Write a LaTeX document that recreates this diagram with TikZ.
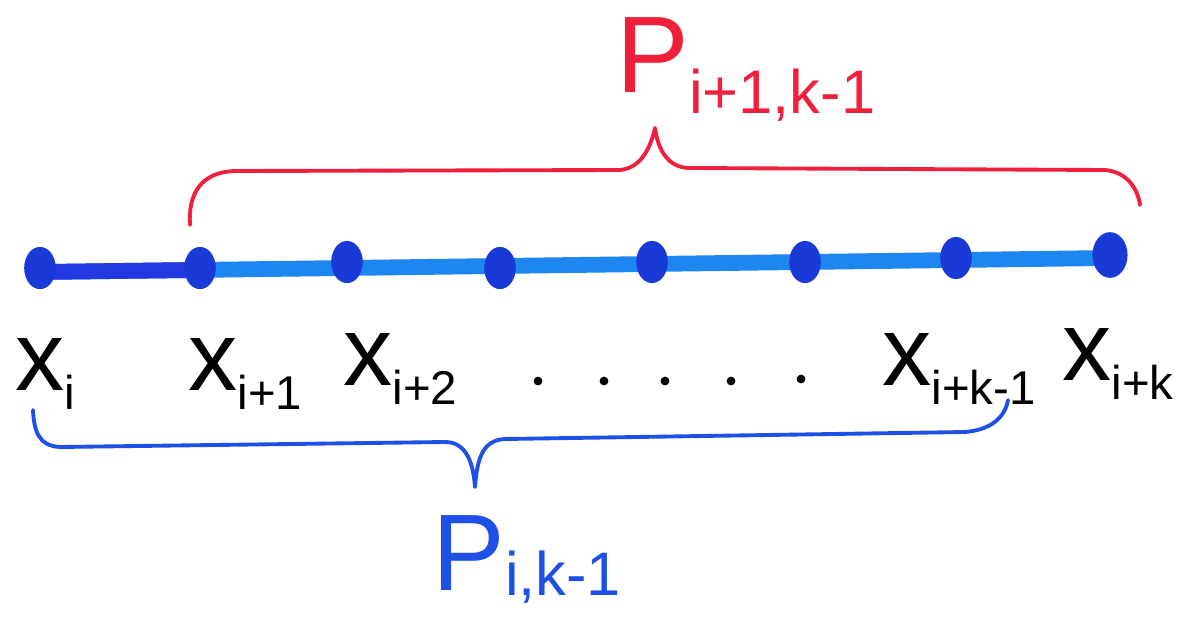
\documentclass[tikz,border=0pt]{standalone}
\usepackage{fontspec}
\setmainfont{Liberation Sans}
\usetikzlibrary{shapes.geometric,calc}
\definecolor{lineblue}{HTML}{1E86F0}
\definecolor{lineblueL}{HTML}{2238E0}
\definecolor{dotblue}{HTML}{1A3AD8}
\definecolor{braceblue}{HTML}{1E50E6}
\definecolor{bracered}{HTML}{F0203C}
\newcommand{\lowsub}[3]{\raisebox{#1}{\fontsize{#2}{#2}\selectfont #3}}
\newcommand{\xlab}[1]{x\lowsub{-11pt}{27}{#1}}
\tikzset{
  dotnode/.style={ellipse,fill=dotblue,minimum width=18pt,minimum height=24pt,inner sep=0pt},
  lbl/.style={font=\fontsize{56}{60}\selectfont,text=black,anchor=base west,inner sep=0pt},
  dotlbl/.style={circle,fill=black,minimum size=5pt,inner sep=0pt},
  brace/.style={line width=2.2pt,line cap=round,line join=round},
  plabel/.style={font=\fontsize{62}{66}\selectfont,anchor=base west,inner sep=0pt}
}
\begin{document}
\begin{tikzpicture}[x=0.02cm,y=-0.02cm]
\useasboundingbox (0,0) rectangle (1184,616);
% line
\coordinate (a1) at (40,272);
\coordinate (a8) at (1108,258);
\draw[lineblue,line width=9pt] (a1) -- (a8);
\draw[lineblueL,line width=9pt] (a1) -- ($(a1)!0.16!(a8)$);
% dots
\node[dotnode] (d1) at (40,268) {};
\node[dotnode] (d2) at (200,268) {};
\node[dotnode] (d3) at (347,262) {};
\node[dotnode] (d4) at (500,268) {};
\node[dotnode] (d5) at (652,262) {};
\node[dotnode] (d6) at (805,262) {};
\node[dotnode] (d7) at (956,258) {};
\node[dotnode,minimum width=20pt,minimum height=26pt] (d8) at (1110,255) {};
% labels
\node[lbl] (l1) at (15,390) {\xlab{i}};
\node[lbl] (l2) at (188,390) {\xlab{i+1}};
\node[lbl] (l3) at (343,385) {\xlab{i+2}};
\node[dotlbl] (e1) at (538,381) {};
\node[dotlbl] (e2) at (604,381) {};
\node[dotlbl] (e3) at (665,381) {};
\node[dotlbl] (e4) at (731,381) {};
\node[dotlbl] (e5) at (801,379) {};
\node[lbl] (l7) at (882,385) {\xlab{i+k-1}};
\node[lbl] (l8) at (1062,380) {\xlab{i+k}};
% red brace
\coordinate (r1) at (190,225);
\coordinate (r2) at (1140,205);
\coordinate (rt) at (655,128);
\draw[brace,bracered] (r1) .. controls (188,195) and (200,172) .. (235,171)
  -- (620,170) .. controls (640,168) and (650,150) .. (rt)
  .. controls (658,150) and (668,168) .. (690,168) -- (1105,170)
  .. controls (1128,172) and (1138,190) .. (r2);
\node[plabel,text=bracered] (pr) at (616,92) {P\lowsub{-12pt}{35}{i+1,k-1}};
% blue brace
\coordinate (b1) at (33,410);
\coordinate (b2) at (1008,400);
\coordinate (bt) at (475,487);
\draw[brace,braceblue] (b1) .. controls (34,430) and (38,446) .. (60,447)
  -- (445,442) .. controls (465,442) and (473,460) .. (bt)
  .. controls (477,460) and (482,440) .. (505,439) -- (965,432)
  .. controls (990,430) and (1005,418) .. (b2);
\node[plabel,text=braceblue] (pb) at (432,590) {P\lowsub{-3pt}{35}{i,k-1}};
\end{tikzpicture}
\end{document}
